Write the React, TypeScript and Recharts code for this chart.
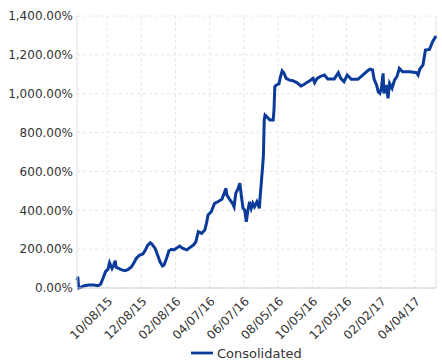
import React from 'react';
import { LineChart, Line, XAxis, YAxis, CartesianGrid, Legend, ReferenceLine } from 'recharts';

const dayIndex = [
  0, 1, 2, 4, 8, 14, 20, 26, 29, 32, 35, 38, 40, 43, 45, 47, 48, 51, 55, 59,
  63, 67, 70, 73, 77, 81, 84, 87, 90, 92, 96, 99, 102, 105, 107, 110, 113, 116, 119, 122,
  126, 130, 135, 139, 143, 146, 149, 153, 157, 159, 161, 165, 169, 173, 178, 180, 183, 184, 188, 191,
  193, 195, 198, 200, 202, 204, 206, 208, 210, 212, 214, 216, 218, 221, 224, 225, 226, 227, 228, 229,
  230, 231, 233, 237, 241, 242, 243, 245, 248, 250, 252, 254, 257, 261, 265, 270, 275, 278, 282, 286,
  290, 292, 295, 300, 304, 308, 316, 321, 324, 328, 332, 337, 345, 351, 357, 360, 363, 365, 368, 370,
  372, 374, 376, 377, 380, 382, 384, 387, 390, 393, 396, 400, 409, 417, 419, 421, 425, 428, 433, 437,
  441,
];

const consolidated = [
  40, 58, 0, 2, 10, 15, 15, 12, 20, 50, 84, 96, 130, 101, 118, 140, 107, 101, 93, 89,
  96, 110, 130, 153, 170, 175, 196, 221, 233, 226, 204, 170, 135, 113, 118, 153, 192, 199, 196, 204,
  216, 204, 196, 209, 221, 238, 290, 281, 299, 333, 376, 393, 436, 444, 457, 479, 513, 479, 453, 436,
  418, 487, 513, 539, 470, 410, 401, 341, 401, 444, 410, 436, 418, 444, 410, 470, 520, 573, 624, 685,
  865, 890, 882, 865, 865, 916, 1036, 1045, 1050, 1088, 1118, 1108, 1079, 1070, 1067, 1057, 1040, 1045, 1057, 1067,
  1079, 1057, 1079, 1091, 1096, 1076, 1076, 1108, 1079, 1062, 1096, 1074, 1074, 1096, 1118, 1126, 1122, 1074, 1045, 1010,
  1002, 1028, 1105, 1002, 1045, 976, 1053, 1028, 1070, 1088, 1130, 1113, 1113, 1108, 1096, 1126, 1148, 1225, 1228, 1269,
  1297,
];

const tickIndex = [37, 79, 121, 163, 205, 247, 289, 331, 373, 415];
const tickLabels = [
  '10/08/15', '12/08/15', '02/08/16', '04/07/16', '06/07/16',
  '08/05/16', '10/05/16', '12/05/16', '02/02/17', '04/04/17',
];
const yTicks = [0, 200, 400, 600, 800, 1000, 1200, 1400];

const data = dayIndex.map((x, i) => ({ x, Consolidated: consolidated[i] }));

const fmtPct = (v: number) => {
  const s = Math.round(v).toString().replace(/\B(?=(\d{3})+(?!\d))/g, ',');
  return s + '.00%';
};

const fmtDate = (v: number) => {
  const i = tickIndex.indexOf(v);
  return i >= 0 ? tickLabels[i] : '';
};

export default function App() {
  return (
    <div style={{ position: 'absolute', left: 0, top: 0, fontFamily: '"DejaVu Sans", sans-serif' }}>
      <LineChart width={442} height={364} data={data} margin={{ top: 16, right: 6, left: 0, bottom: 0 }}>
        <CartesianGrid stroke="#e6e6e6" strokeDasharray="3 3" />
        <XAxis
          dataKey="x"
          type="number"
          domain={[0, 441]}
          ticks={tickIndex}
          interval={0}
          tickFormatter={fmtDate}
          angle={-45}
          textAnchor="end"
          height={54}
          tick={{ fontSize: 12, fill: '#333' }}
          tickLine={false}
          axisLine={{ stroke: '#cccccc' }}
        />
        <YAxis
          domain={[0, 1400]}
          ticks={yTicks}
          interval={0}
          tickFormatter={fmtPct}
          width={77}
          tick={{ fontSize: 12, fill: '#333' }}
          tickLine={false}
          tickSize={0}
          tickMargin={4}
          axisLine={{ stroke: '#e6e6e6' }}
        />
        <ReferenceLine x={441} stroke="#e6e6e6" />
        <Legend
          verticalAlign="bottom"
          align="left"
          iconType="plainline"
          iconSize={22}
          wrapperStyle={{ left: 191, width: 140 }}
          formatter={(value: string) => <span style={{ color: '#333', fontSize: 13 }}>{value}</span>}
        />
        <Line
          type="linear"
          dataKey="Consolidated"
          stroke="#0a3a9a"
          strokeWidth={3}
          dot={false}
          isAnimationActive={false}
        />
      </LineChart>
    </div>
  );
}
